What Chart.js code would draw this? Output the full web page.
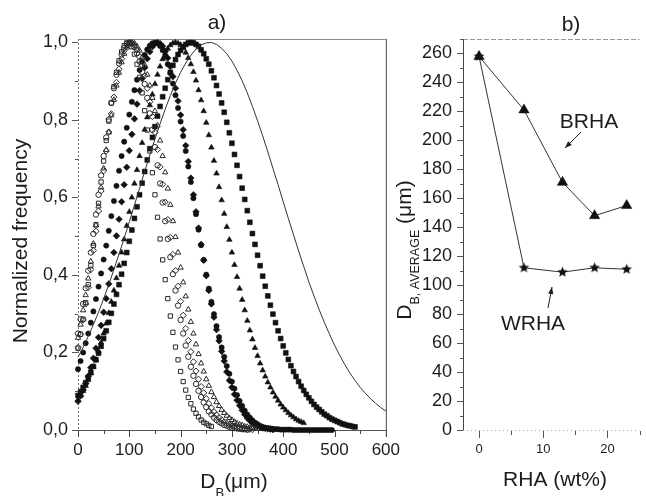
<!DOCTYPE html>
<html><head><meta charset="utf-8">
<script src="https://cdn.jsdelivr.net/npm/chart.js@4.4.0/dist/chart.umd.min.js"></script>
<style>
html,body{margin:0;padding:0;background:#fff;}
#wrap{position:relative;width:646px;height:496px;overflow:hidden;background:#fff;}
#ca{position:absolute;left:0;top:0;width:410px;height:496px;}
#cb{position:absolute;left:380px;top:0;width:266px;height:496px;}
</style></head><body>
<div id="wrap"><canvas id="ca" width="410" height="496"></canvas><canvas id="cb" width="266" height="496"></canvas></div>
<script>
// ---------- Panel a) data: normalized frequency vs bubble diameter D_B (µm) ----------
const diameters = [0,5,10,15,20,25,30,35,40,45,50,55,60,65,70,75,80,85,90,95,100,105,110,115,120,125,130,135,140,145,150,155,160,165,170,175,180,185,190,195,200,205,210,215,220,225,230,235,240,245,250,255,260,265,270,275,280,285,290,295,300,305,310,315,320,325,330,335,340,345,350,355,360,365,370,375,380,385,390,395,400,405,410,415,420,425,430,435,440,445,450,455,460,465,470,475,480,485,490,495,500,505,510,515,520,525,530,535,540];
const lineDiameters = [0,10,20,30,40,50,60,70,80,90,100,110,120,130,140,150,160,170,180,190,200,210,220,230,240,250,260,270,280,290,300,310,320,330,340,350,360,370,380,390,400,410,420,430,440,450,460,470,480,490,500,510,520,530,540,550,560,570,580,590,600];

// 0 wt% (solid line)
const line0 = [.188,.213,.242,.272,.304,.339,.375,.414,.454,.495,.537,.580,.624,.667,.710,.751,.790,.828,.863,.895,.923,.947,.967,.983,.994,.999,1.000,.995,.985,.971,.952,.928,.901,.870,.835,.798,.759,.718,.675,.633,.589,.546,.504,.462,.422,.382,.346,.311,.278,.248,.219,.193,.169,.147,.128,.110,.095,.081,.069,.058,.049];
// filled squares
const filledSquares = [.089,.099,.110,.122,.135,.149,.164,.181,.198,.216,.236,.256,.278,.301,.325,.350,.375,.402,.430,.458,.487,.516,.546,.576,.607,.637,.667,.697,.726,.755,.783,.810,.835,.860,.882,.904,.923,.941,.956,.969,.980,.989,.995,.999,1.000,
 .999,.995,.990,.981,.971,.958,.944,.927,.909,.889,.867,.844,.820,.794,.767,.740,.711,.683,.654,.624,.595,.566,.536,.507,.479,.451,.424,.397,.371,.346,.322,.299,.277,.256,.236,.217,.199,.182,.166,.151,.138,.125,.113,.102,.092,.083,.074,.066,.059,.053,.047,.041,.037,.032,.028,.025,.022,.019,.016,.014,.012,.011,.009,.008];
// filled triangles
const filledTriangles = [.078,.089,.101,.114,.129,.146,.163,.182,.203,.226,.249,.275,.302,.331,.360,.392,.424,.458,.492,.527,.563,.600,.636,.671,.707,.741,.775,.807,.838,.866,.893,.917,.938,.957,.972,.984,.993,.998,1.000,
 .998,.994,.986,.974,.960,.944,.924,.902,.877,.851,.823,.793,.761,.729,.695,.662,.627,.593,.558,.524,.491,.458,.426,.395,.365,.336,.309,.282,.257,.234,.212,.191,.172,.154,.138,.123,.110,.097,.086,.076,.066,.058,.051,.044,.038,.033,.028,.024,.021,.018];
// filled circles
const filledCircles = [.157,.178,.200,.224,.249,.277,.306,.338,.370,.404,.440,.476,.514,.552,.591,.630,.669,.707,.744,.780,.814,.847,.877,.904,.929,.950,.968,.982,.992,.998,1.000,
 .998,.991,.980,.964,.944,.921,.894,.864,.831,.796,.759,.720,.680,.640,.598,.557,.517,.477,.439,.401,.365,.331,.299,.268,.240,.213,.189,.165,.145,.125,.107,.090,.075,.062,.050,.040,.032,.025,.019,.015,.011,.008,.006,.005,.004,.003,.002,.002,.001,.001,.001,.001,.001,0,0,0,0,
 0,0,0,0,0,0,0,0,0,0,0,0];
// filled diamonds
const filledDiamonds = [.074,.088,.103,.120,.139,.161,.185,.211,.239,.270,.304,.339,.377,.416,.458,.501,.544,.589,.633,.678,.721,.763,.803,.841,.876,.907,.935,.958,.976,.989,.997,1.000,
 .997,.990,.977,.960,.938,.912,.882,.849,.813,.775,.734,.693,.650,.607,.563,.521,.479,.438,.398,.360,.325,.291,.259,.230,.203,.178,.150,.128,.110,.092,.077,.063,.051,.040,.031,.024,.018,.013,.010,.007,.005,.004,.003,.002,.001];
// open squares
const openSquares = [.211,.247,.286,.329,.375,.424,.476,.530,.585,.640,.694,.747,.797,.844,.886,.923,.953,.976,.992,.999,
 .998,.989,.970,.944,.910,.870,.824,.774,.720,.664,.607,.549,.493,.439,.388,.339,.294,.252,.214,.181,.151,.125,.103,.084,.068,.054,.043,.034,.026,.020,.016,.012,.009];
// open circles
const openCircles = [.249,.286,.325,.366,.411,.458,.506,.556,.607,.657,.707,.755,.801,.844,.882,.917,.946,.969,.986,.997,1.000,
 .997,.988,.972,.951,.924,.893,.857,.817,.775,.730,.683,.636,.587,.539,.493,.446,.402,.360,.321,.284,.249,.218,.189,.163,.140,.119,.101,.085,.071,.059,.048,.040,.032,.026,.021,.017,.013,.011,.008,.006,.005,.004,.003,.002,.002,.001];
// open diamonds
const openDiamonds = [.213,.247,.284,.325,.368,.414,.463,.513,.565,.617,.669,.720,.769,.816,.859,.897,.931,.958,.979,.993,.999,
 .999,.993,.981,.963,.941,.914,.882,.847,.809,.768,.724,.679,.634,.588,.543,.497,.453,.411,.371,.332,.296,.262,.231,.202,.176,.152,.131,.112,.096,.081,.068,.057,.047,.039,.032,.026,.021,.017,.014,.011,.009,.007,.005,.004,.003,.002,.002,.001];
// open triangles
const openTriangles = [.238,.272,.309,.348,.391,.435,.481,.528,.577,.626,.675,.723,.768,.812,.852,.889,.922,.949,.971,.987,.997,1.000,
 .998,.990,.979,.962,.942,.917,.889,.857,.823,.786,.747,.707,.665,.623,.581,.539,.498,.458,.419,.381,.345,.311,.279,.249,.221,.196,.172,.151,.131,.114,.098,.085,.072,.062,.052,.044,.037,.031,.026,.021,.017,.014,.012,.009,.008,.006,.005,.004,.003];

// ---------- Panel b) data: average bubble diameter vs RHA content ----------
const rhaContent = [0, 7, 13, 18, 23];
const brhaAverage = [258, 221, 171, 148, 155];
const wrhaAverage = [258, 112, 109, 112, 111];

// ---------- rendering ----------
const FONT = "'Liberation Sans', Arial, Helvetica, sans-serif";
const INK = '#1c1c1c';
Chart.defaults.font.family = FONT;
Chart.defaults.color = INK;

function toPoints(xs, ys){ return ys.map((v,i)=>({x:xs[i], y:v})); }
function seg(ctx,x1,y1,x2,y2,color,dash){ctx.save();ctx.strokeStyle=color;ctx.lineWidth=1;ctx.setLineDash(dash||[]);ctx.beginPath();ctx.moveTo(x1,y1);ctx.lineTo(x2,y2);ctx.stroke();ctx.restore();}
function drawParts(ctx, parts, cx, cy, rot){
  ctx.save(); ctx.translate(cx, cy); ctx.rotate(rot||0);
  let total=0;
  parts.forEach(p=>{ctx.font=p.s+'px '+FONT; p.w=ctx.measureText(p.t).width; total+=p.w;});
  let x=-total/2; ctx.textBaseline='alphabetic'; ctx.textAlign='left'; ctx.fillStyle=INK;
  parts.forEach(p=>{ctx.font=p.s+'px '+FONT; ctx.fillText(p.t, x, p.dy||0); x+=p.w;});
  ctx.restore();
}
function arrow(ctx, x1,y1,x2,y2){
  ctx.save(); ctx.strokeStyle=INK; ctx.fillStyle=INK; ctx.lineWidth=1;
  ctx.beginPath(); ctx.moveTo(x1,y1); ctx.lineTo(x2,y2); ctx.stroke();
  const a=Math.atan2(y2-y1,x2-x1), L=7, W=2.6;
  ctx.beginPath(); ctx.moveTo(x2,y2);
  ctx.lineTo(x2-L*Math.cos(a)+W*Math.sin(a), y2-L*Math.sin(a)-W*Math.cos(a));
  ctx.lineTo(x2-L*Math.cos(a)-W*Math.sin(a), y2-L*Math.sin(a)+W*Math.cos(a));
  ctx.closePath(); ctx.fill(); ctx.restore();
}
function starImg(r){
  const c=document.createElement('canvas'); c.width=c.height=2*r+2;
  const g=c.getContext('2d'); g.fillStyle='#111'; g.beginPath();
  for(let i=0;i<10;i++){const a=-Math.PI/2+i*Math.PI/5; const rr=(i%2)?r*0.45:r; g.lineTo(r+1+rr*Math.cos(a), r+1+rr*Math.sin(a));}
  g.closePath(); g.fill(); return c;
}

const open = (style, r) => ({pointStyle:style, pointRadius:r, borderWidth:1, borderColor:'#2a2a2a', backgroundColor:'rgba(255,255,255,0)', showLine:false, clip:false});
const filled = (style, r) => ({pointStyle:style, pointRadius:r, borderWidth:0.6, borderColor:'#111', backgroundColor:'#111', showLine:false, clip:false});

const decoA = {
  id:'decoA',
  beforeDatasetsDraw(chart){
    const {ctx, chartArea:a, scales:{x,y}} = chart;
    seg(ctx, a.left, a.top+0.5, a.right, a.top+0.5, '#8a8a8a');
    seg(ctx, a.right+0.5, a.top, a.right+0.5, a.bottom+7, '#444');
    seg(ctx, a.left+0.5, a.top, a.left+0.5, a.bottom, '#777', [2,2]);
    seg(ctx, a.left, a.bottom+0.5, a.right, a.bottom+0.5, '#555');
    for(let v=0; v<=600; v+=50){ const px=Math.round(x.getPixelForValue(v))+0.5; seg(ctx, px, a.bottom, px, a.bottom+(v%100===0?7:4), '#444'); }
    for(let k=0; k<=10; k++){ const py=Math.round(y.getPixelForValue(k/10))+0.5; seg(ctx, a.left-(k%2===0?6:3), py, a.left, py, '#555'); }
  },
  afterDraw(chart){
    const ctx=chart.ctx;
    drawParts(ctx, [{t:'a)', s:21}], 217, 29);
    drawParts(ctx, [{t:'Normalized frequency', s:21}], 27, 241, -Math.PI/2);
    drawParts(ctx, [{t:'D', s:21},{t:'B', s:13, dy:9},{t:'(μm)', s:21}], 234, 488);
  }
};

new Chart(document.getElementById('ca'), {
  type:'scatter',
  data:{datasets:[
    Object.assign({data:toPoints(lineDiameters, line0), showLine:true, pointRadius:0, borderColor:'#333', borderWidth:1, tension:0, clip:false}),
    Object.assign({data:toPoints(diameters, openSquares)}, open('rect', 3)),
    Object.assign({data:toPoints(diameters, openCircles)}, open('circle', 2.7)),
    Object.assign({data:toPoints(diameters, openDiamonds)}, open('rectRot', 3.1)),
    Object.assign({data:toPoints(diameters, openTriangles)}, open('triangle', 3.1)),
    Object.assign({data:toPoints(diameters, filledCircles)}, filled('circle', 2.6)),
    Object.assign({data:toPoints(diameters, filledDiamonds)}, filled('rectRot', 3.3)),
    Object.assign({data:toPoints(diameters, filledTriangles)}, filled('triangle', 3.2)),
    Object.assign({data:toPoints(diameters, filledSquares)}, filled('rect', 3.4))
  ]},
  options:{
    responsive:false, animation:false, events:[], devicePixelRatio:1,
    layout:{padding:{top:39, right:18, left:0, bottom:0}},
    plugins:{legend:{display:false}, tooltip:{enabled:false}},
    scales:{
      x:{type:'linear', min:0, max:600, border:{display:false}, grid:{display:false, drawTicks:false},
         ticks:{stepSize:100, font:{size:17}, color:INK, padding:10, maxRotation:0, autoSkip:false},
         afterFit(s){ s.height=66; }},
      y:{type:'linear', min:0, max:1.009, border:{display:false}, grid:{display:false, drawTicks:false},
         ticks:{stepSize:0.2, includeBounds:false, font:{size:18}, color:INK, padding:10,
                callback:v=>Number(v).toFixed(1).replace('.', ',')},
         afterFit(s){ s.width=78; }}
    }
  },
  plugins:[decoA]
});

const decoB = {
  id:'decoB',
  beforeDatasetsDraw(chart){
    const {ctx, chartArea:a, scales:{x,y}} = chart;
    seg(ctx, a.left, a.top+0.5, a.right, a.top+0.5, '#999', [5,2]);
    seg(ctx, a.left+0.5, a.top, a.left+0.5, a.bottom, '#444');
    seg(ctx, a.left, a.bottom+0.5, a.right, a.bottom+0.5, '#aaa', [1,3]);
    for(let v=0; v<=270; v+=10){ const py=Math.round(y.getPixelForValue(v))+0.5; seg(ctx, a.left-(v%20===0?6:3), py, a.left, py, '#555'); }
    for(let v=0; v<=25; v+=5){ const px=Math.round(x.getPixelForValue(v))+0.5; seg(ctx, px, a.bottom+1, px, a.bottom+(v%10===0?8:5), '#555'); }
  },
  afterDraw(chart){
    const ctx=chart.ctx;
    drawParts(ctx, [{t:'b)', s:21}], 191, 31);
    drawParts(ctx, [{t:'D', s:21},{t:'B, AVERAGE', s:12.5, dy:8},{t:' (μm)', s:21}], 31, 250, -Math.PI/2);
    drawParts(ctx, [{t:'RHA (wt%)', s:21}], 175, 486);
    drawParts(ctx, [{t:'BRHA', s:21}], 209, 128);
    drawParts(ctx, [{t:'WRHA', s:21}], 153, 330);
    arrow(ctx, 201, 132, 185, 148);
    arrow(ctx, 168, 308, 172, 287);
  }
};

new Chart(document.getElementById('cb'), {
  type:'scatter',
  data:{datasets:[
    {data:toPoints(rhaContent, brhaAverage), showLine:true, borderColor:'#333', borderWidth:1, pointStyle:'triangle', pointRadius:6, pointBackgroundColor:'#111', pointBorderColor:'#111', pointBorderWidth:0.5, clip:false},
    {data:toPoints(rhaContent, wrhaAverage), showLine:true, borderColor:'#333', borderWidth:1, pointStyle:starImg(5.5), pointRadius:5.5, clip:false}
  ]},
  options:{
    responsive:false, animation:false, events:[], devicePixelRatio:1,
    layout:{padding:{top:39, right:0, left:0, bottom:0}},
    plugins:{legend:{display:false}, tooltip:{enabled:false}},
    scales:{
      x:{type:'linear', min:-2.5, max:25, border:{display:false}, grid:{display:false, drawTicks:false},
         ticks:{stepSize:10, includeBounds:false, font:{size:13}, color:INK, padding:12, maxRotation:0, autoSkip:false},
         afterFit(s){ s.height=66; }},
      y:{type:'linear', min:0, max:270, border:{display:false}, grid:{display:false, drawTicks:false},
         ticks:{stepSize:20, includeBounds:false, font:{size:18}, color:INK, padding:11},
         afterFit(s){ s.width=83; }}
    }
  },
  plugins:[decoB]
});
</script>
</body></html>
